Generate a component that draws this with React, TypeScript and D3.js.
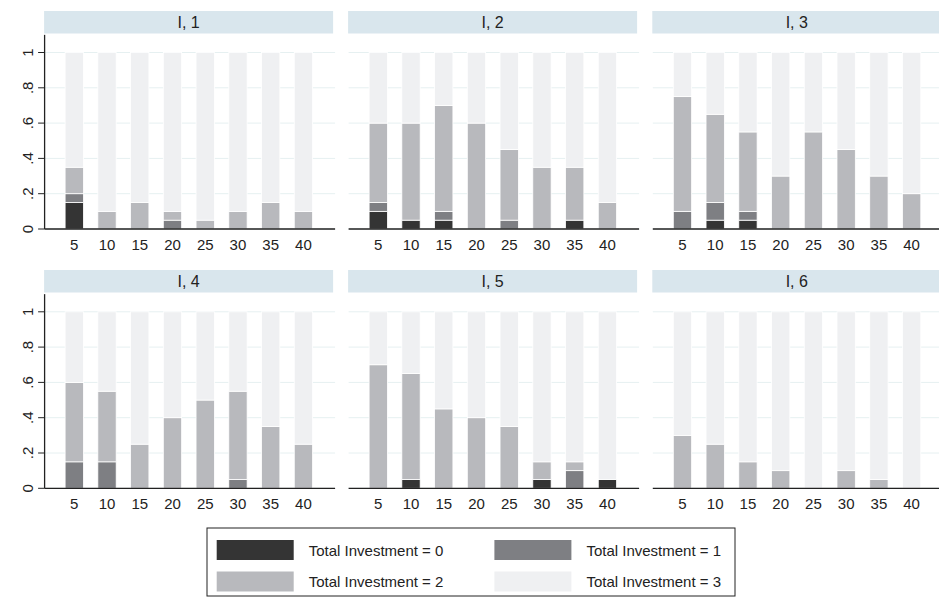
import React from "react";
import * as d3 from "d3";

const categories = [5, 10, 15, 20, 25, 30, 35, 40];
const panels = ["I, 1", "I, 2", "I, 3", "I, 4", "I, 5", "I, 6"];
const yTicks = [0, 0.2, 0.4, 0.6, 0.8, 1];
const yTickLabels = ["0", ".2", ".4", ".6", ".8", "1"];

const inv0 = [
  [0.15, 0, 0, 0, 0, 0, 0, 0],
  [0.1, 0.05, 0.05, 0, 0, 0, 0.05, 0],
  [0, 0.05, 0.05, 0, 0, 0, 0, 0],
  [0, 0, 0, 0, 0, 0, 0, 0],
  [0, 0.05, 0, 0, 0, 0.05, 0, 0.05],
  [0, 0, 0, 0, 0, 0, 0, 0],
];
const inv1 = [
  [0.05, 0, 0, 0.05, 0, 0, 0, 0],
  [0.05, 0, 0.05, 0, 0.05, 0, 0, 0],
  [0.1, 0.1, 0.05, 0, 0, 0, 0, 0],
  [0.15, 0.15, 0, 0, 0, 0.05, 0, 0],
  [0, 0, 0, 0, 0, 0, 0.1, 0],
  [0, 0, 0, 0, 0, 0, 0, 0],
];
const inv2 = [
  [0.15, 0.1, 0.15, 0.05, 0.05, 0.1, 0.15, 0.1],
  [0.45, 0.55, 0.6, 0.6, 0.4, 0.35, 0.3, 0.15],
  [0.65, 0.5, 0.45, 0.3, 0.55, 0.45, 0.3, 0.2],
  [0.45, 0.4, 0.25, 0.4, 0.5, 0.5, 0.35, 0.25],
  [0.7, 0.6, 0.45, 0.4, 0.35, 0.1, 0.05, 0],
  [0.3, 0.25, 0.15, 0.1, 0, 0.1, 0.05, 0],
];
const inv3 = [
  [0.65, 0.9, 0.85, 0.9, 0.95, 0.9, 0.85, 0.9],
  [0.4, 0.4, 0.3, 0.4, 0.55, 0.65, 0.65, 0.85],
  [0.25, 0.35, 0.45, 0.7, 0.45, 0.55, 0.7, 0.8],
  [0.4, 0.45, 0.75, 0.6, 0.5, 0.45, 0.65, 0.75],
  [0.3, 0.35, 0.55, 0.6, 0.65, 0.85, 0.85, 0.95],
  [0.7, 0.75, 0.85, 0.9, 1, 0.9, 0.95, 1],
];
const seriesLabels = [
  "Total Investment = 0",
  "Total Investment = 1",
  "Total Investment = 2",
  "Total Investment = 3",
];

const colors = ["#343434", "#7e7f83", "#b8b9bd", "#eff0f2"];
const keys = ["v0", "v1", "v2", "v3"];

const W = 939;
const H = 601;
const panelLefts = [44.6, 348.6, 652.8];
const panelW = 290.5;
const baselines = [229, 488.3];
const stripTops = [11, 270];
const stripH = 22.5;
const unitPx = 176.5;
const font = "Arial, 'Liberation Sans', Helvetica, sans-serif";

export default function App() {
  const stack = d3.stack<any>().keys(keys);

  return (
    <svg
      width={W}
      height={H}
      style={{ position: "absolute", left: 0, top: 0, background: "#fff" }}
      fontFamily={font}
    >
      <rect x={0} y={0} width={W} height={H} fill="#fff" />
      {panels.map((name, pi) => {
        const col = pi % 3;
        const row = Math.floor(pi / 3);
        const left = panelLefts[col];
        const base = baselines[row];
        const y = d3.scaleLinear().domain([0, 1.1]).range([base, base - 1.1 * unitPx]);
        const x = d3
          .scaleBand<number>()
          .domain(categories)
          .range([left + 20.5, left + 268])
          .paddingInner(0.44)
          .paddingOuter(0);
        const rows = categories.map((c, i) => ({
          cat: c,
          v0: inv0[pi][i],
          v1: inv1[pi][i],
          v2: inv2[pi][i],
          v3: inv3[pi][i],
        }));
        const series = stack(rows);
        return (
          <g key={name}>
            {/* strip */}
            <rect
              x={left - 0.5}
              y={stripTops[row]}
              width={panelW - 1.5}
              height={stripH}
              fill="#d9e6ed"
            />
            <text
              x={left - 0.5 + (panelW - 1.5) / 2}
              y={stripTops[row] + stripH / 2 + 5.5}
              textAnchor="middle"
              fontSize={16}
              fill="#222"
            >
              {name}
            </text>
            {/* grid */}
            {yTicks.map((t) => (
              <line
                key={t}
                x1={left}
                x2={left + panelW}
                y1={y(t)}
                y2={y(t)}
                stroke="#e6f0f1"
                strokeWidth={1}
              />
            ))}
            {/* bars */}
            {series.map((s, si) =>
              s.map((d, di) => {
                const h = y(d[0]) - y(d[1]);
                if (h <= 0) return null;
                return (
                  <rect
                    key={`${si}-${di}`}
                    x={x(categories[di])}
                    y={y(d[1])}
                    width={x.bandwidth()}
                    height={h}
                    fill={colors[si]}
                    stroke="#fff"
                    strokeWidth={0.8}
                  />
                );
              })
            )}
            {/* x axis */}
            <line x1={left} x2={left + panelW} y1={base} y2={base} stroke="#222" strokeWidth={1.3} />
            {categories.map((c) => (
              <text
                key={c}
                x={(x(c) as number) + x.bandwidth() / 2}
                y={base + 21}
                textAnchor="middle"
                fontSize={15}
                fill="#222"
              >
                {c}
              </text>
            ))}
            {/* y axis */}
            {col === 0 && (
              <g>
                <line x1={left} x2={left} y1={base} y2={y(1.1)} stroke="#222" strokeWidth={1.3} />
                {yTicks.map((t, ti) => (
                  <g key={t}>
                    <line x1={left - 6.5} x2={left} y1={y(t)} y2={y(t)} stroke="#222" strokeWidth={1} />
                    <text
                      transform={`translate(${left - 11.3},${y(t)}) rotate(-90)`}
                      textAnchor="middle"
                      fontSize={15}
                      fill="#222"
                    >
                      {yTickLabels[ti]}
                    </text>
                  </g>
                ))}
              </g>
            )}
          </g>
        );
      })}
      {/* legend */}
      <g>
        <rect x={207} y={528} width={528} height={68} fill="#fff" stroke="#222" strokeWidth={1} />
        {seriesLabels.map((lab, i) => {
          const cx = i % 2 === 0 ? 216.7 : 494.4;
          const cy = i < 2 ? 540 : 571.5;
          return (
            <g key={lab}>
              <rect x={cx} y={cy} width={77} height={20} fill={colors[i]} />
              <text x={cx + 92} y={cy + 15.5} fontSize={15} fill="#222">
                {lab}
              </text>
            </g>
          );
        })}
      </g>
    </svg>
  );
}
